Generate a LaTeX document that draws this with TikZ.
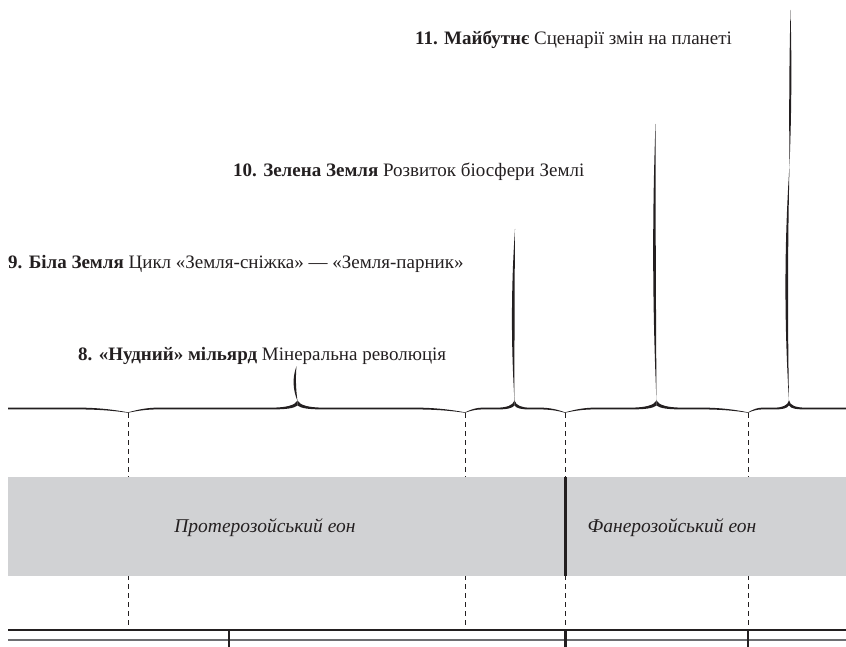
\documentclass[tikz,border=0pt]{standalone}
\usepackage{fontspec}
\setmainfont{Liberation Serif}
\definecolor{bandgray}{HTML}{D1D2D4}
\definecolor{ink}{HTML}{231F20}
\definecolor{linegray}{HTML}{6D6E71}
% left half of a brace: cusp at #1, tip at #2
\newcommand\TLbraceL[2]{%
  \pgfmathsetmacro\TLe{min(30,0.35*(#2-#1))}%
  \pgfmathsetmacro\TLt{min(26,0.35*(#2-#1))}%
  \fill[ink] (#1,412.3) .. controls ({#1+0.35*\TLe},409.5) and ({#1+0.6*\TLe},407.8) .. ({#1+\TLe},407.6)
    -- ({#2-\TLt},407.6) .. controls ({#2-0.45*\TLt},407.6) and ({#2-0.1*\TLt},405.5) .. (#2,400.5)
    -- (#2,405.5) .. controls ({#2-0.15*\TLt},408.5) and ({#2-0.45*\TLt},409.4) .. ({#2-\TLt},409.4)
    -- ({#1+\TLe},409.4) .. controls ({#1+0.6*\TLe},409.5) and ({#1+0.35*\TLe},410.6) .. (#1,412.8) -- cycle;}
% right half of a brace: tip at #1, cusp at #2
\newcommand\TLbraceR[2]{%
  \pgfmathsetmacro\TLe{min(50,0.5*(#2-#1))}%
  \pgfmathsetmacro\TLt{min(26,0.3*(#2-#1))}%
  \fill[ink] (#1,400.5) .. controls ({#1+0.1*\TLt},405.5) and ({#1+0.45*\TLt},407.6) .. ({#1+\TLt},407.6)
    -- ({#2-\TLe},407.6) .. controls ({#2-0.6*\TLe},407.7) and ({#2-0.3*\TLe},409.5) .. (#2,412.3)
    -- (#2,412.8) .. controls ({#2-0.3*\TLe},410.6) and ({#2-0.6*\TLe},409.5) .. ({#2-\TLe},409.4)
    -- ({#1+\TLt},409.4) .. controls ({#1+0.45*\TLt},409.4) and ({#1+0.15*\TLt},408.5) .. (#1,405.5) -- cycle;}
% tapered lens from (#1,#2) to (#3,#4), bulge #5 to the left, width #6
\newcommand\TLlens[6]{%
  \fill[ink] (#1,#2) .. controls ({#1+(#3-#1)/3-(#5+#6/2)/0.75},{#2+(#4-#2)/3}) and ({#1+2*(#3-#1)/3-(#5+#6/2)/0.75},{#2+2*(#4-#2)/3}) .. (#3,#4)
    .. controls ({#1+2*(#3-#1)/3-(#5-#6/2)/0.75},{#2+2*(#4-#2)/3}) and ({#1+(#3-#1)/3-(#5-#6/2)/0.75},{#2+(#4-#2)/3}) .. (#1,#2) -- cycle;}
\tikzset{
  label/.style={anchor=base west, inner sep=0pt, font=\fontsize{19}{22}\selectfont, text=ink},
  eon/.style={anchor=base, inner sep=0pt, font=\fontsize{19.5}{22}\selectfont\itshape, text=ink},
  guide/.style={draw=ink, line width=0.6pt, dash pattern=on 5pt off 4pt},
}
\begin{document}
\begin{tikzpicture}[x=1pt,y=-1pt]
\useasboundingbox (0,0) rectangle (846,647);
% dashed guides
\foreach \gx/\gn in {128/a,465/b,565/c,748/d}{
  \coordinate (g\gn top) at (\gx,413);
  \coordinate (g\gn bot) at (\gx,630);
  \draw[guide] (g\gn top) -- (g\gn bot);
}
% eon band
\fill[bandgray] (8,477) rectangle (846,576);
\draw[ink, line width=3pt] (565,477) -- (565,576);
\node[eon] (pro) at (265,532) {Протерозойський еон};
\node[eon] (fan) at (672,532) {Фанерозойський еон};
% time axis
\draw[ink, line width=1.2pt] (8,630) -- (846,630);
\draw[linegray, line width=1.5pt] (8,640) -- (846,640);
\draw[ink, line width=2.4pt] (229,630) -- (229,647);
\draw[ink, line width=3pt] (565,630) -- (565,647);
\draw[ink, line width=2.4pt] (748,630) -- (748,647);
% first segment (right end only)
\fill[ink] (8,407.6) -- (78,407.6) .. controls (98,407.7) and (113,409.5) .. (128,412.3)
  -- (128,412.8) .. controls (113,410.6) and (98,409.5) .. (78,409.4) -- (8,409.4) -- cycle;
% brace 8
\TLbraceL{128}{297.5}
\TLbraceR{297.5}{465}
\TLlens{297.5}{401}{296.5}{366}{2.2}{2.4}
% brace 9
\TLbraceL{465}{514.5}
\TLbraceR{514.5}{565}
\TLlens{514.5}{401}{515}{229}{1.5}{2.6}
% brace 10
\TLbraceL{565}{656.5}
\TLbraceR{656.5}{748}
\TLlens{656.5}{401}{655.5}{124}{1.5}{2.6}
% brace 11
\TLbraceL{748}{789}
\fill[ink] (789,400.5) .. controls (790,405.5) and (796,407.6) .. (805,407.6) -- (846,407.6)
  -- (846,409.4) -- (805,409.4) .. controls (796,409.4) and (790.5,408.5) .. (789,405.5) -- cycle;
\TLlens{789}{401}{789.5}{165}{2.5}{2.6}
\TLlens{789.5}{165}{790.5}{10}{-0.3}{2.0}
% labels
\node[label] (t11) at (415,45) {\textbf{11. Майбутнє} Сценарії змін на планеті};
\node[label] (t10) at (233,177) {\textbf{10. Зелена Земля} Розвиток біосфери Землі};
\node[label] (t9) at (8,269) {\textbf{9. Біла Земля} Цикл «Земля-сніжка» — «Земля-парник»};
\node[label] (t8) at (78,360) {\textbf{8. «Нудний» мільярд} Мінеральна революція};
\end{tikzpicture}
\end{document}
